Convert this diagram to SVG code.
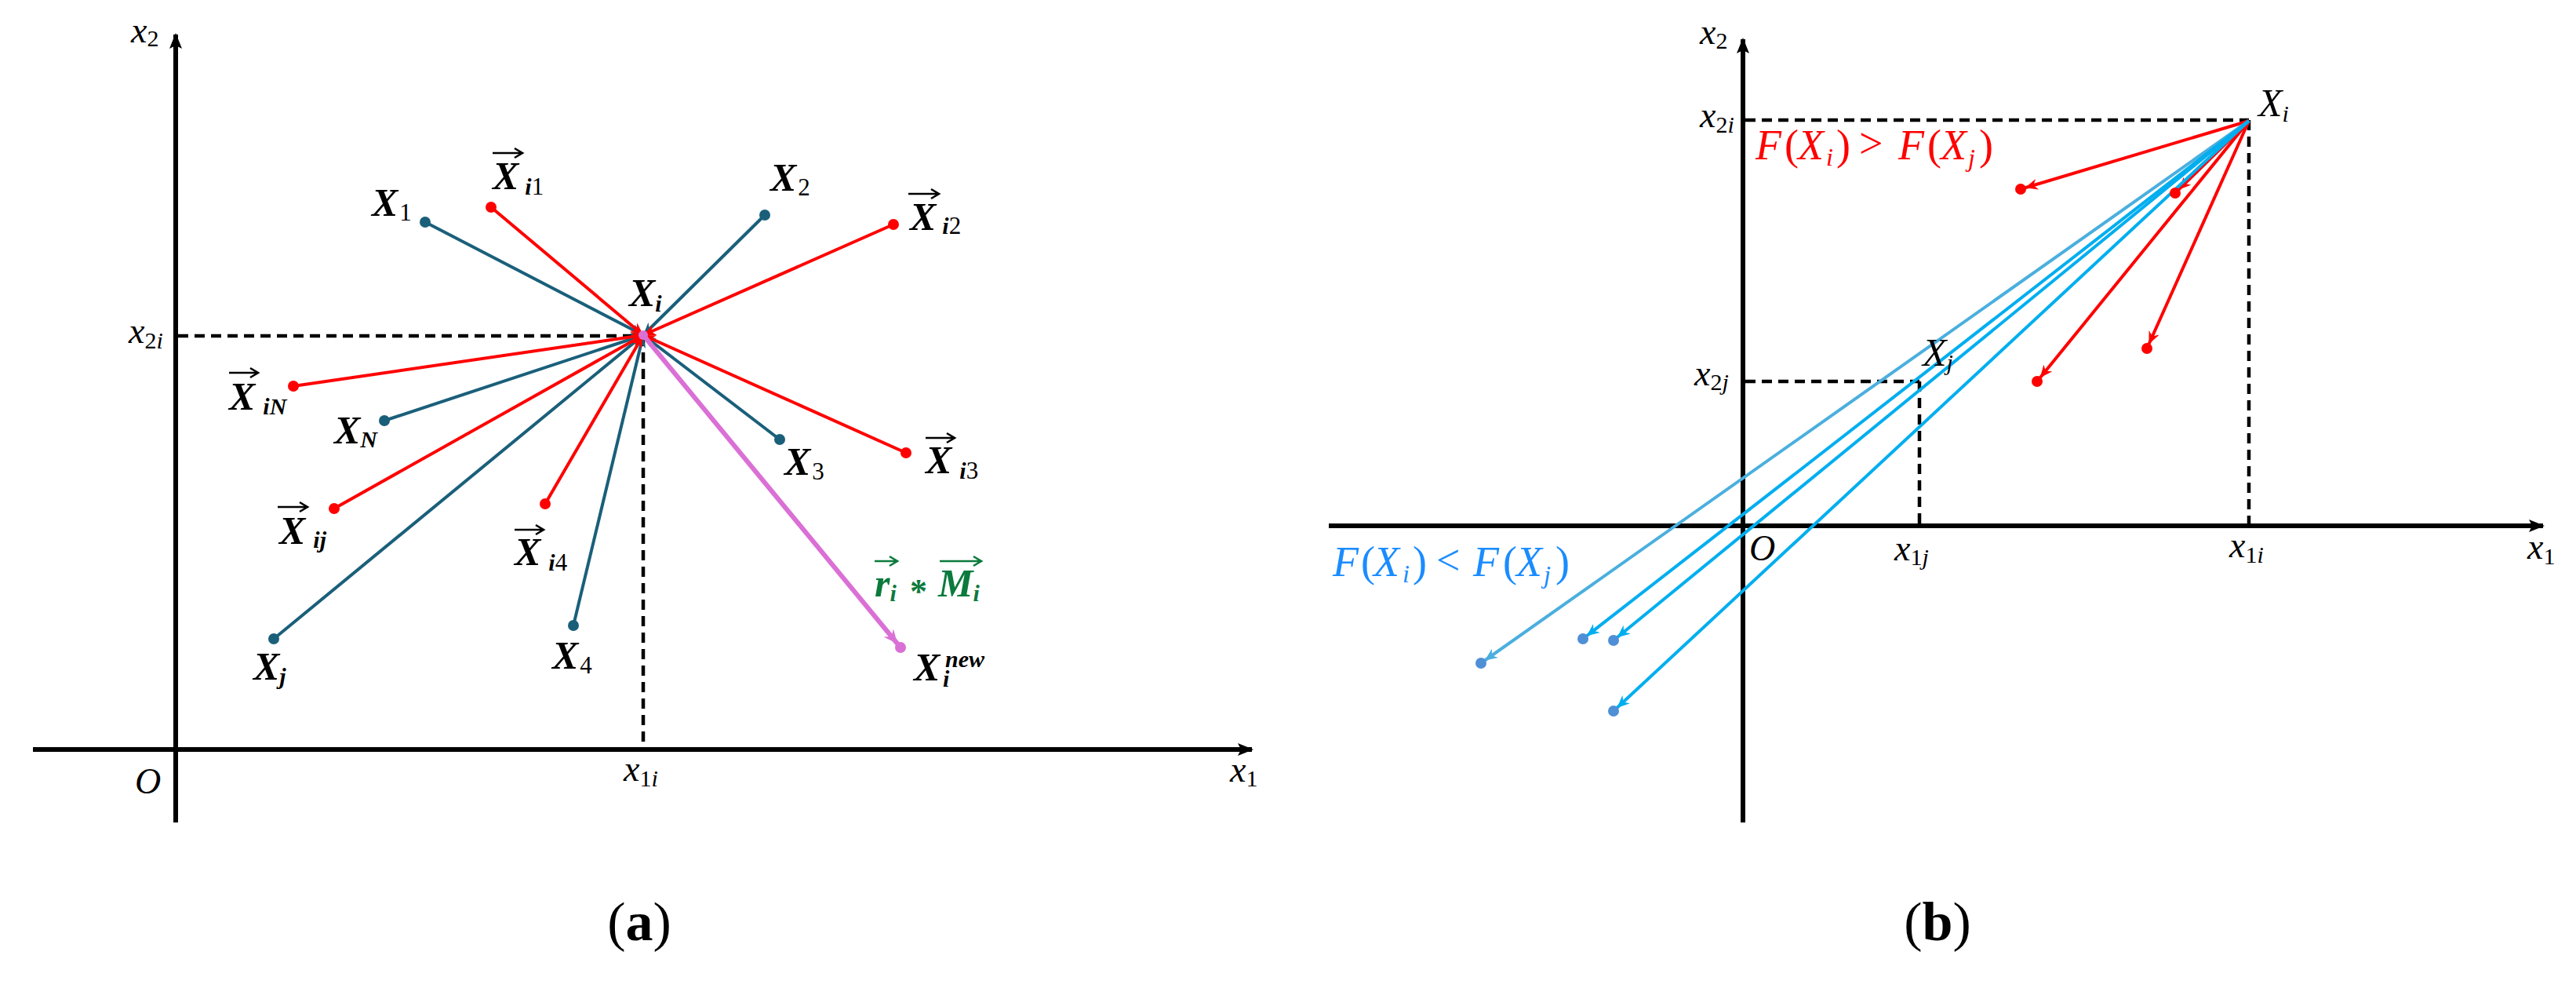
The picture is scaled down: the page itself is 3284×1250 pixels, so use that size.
<svg xmlns="http://www.w3.org/2000/svg" width="3284" height="1250" viewBox="0 0 3284 1250">
<style>
.ax{stroke:#000;stroke-width:6;fill:none}
.dash{stroke:#000;stroke-width:4.5;stroke-dasharray:13 8;fill:none}
.tl{stroke:#1a5f7a;stroke-width:4;fill:none}
.rd{stroke:#ff0000;stroke-width:4;fill:none}
.pk{stroke:#da70d6;stroke-width:6;fill:none}
.cy{stroke:#00aeef;stroke-width:4;fill:none}
.lb{stroke:#4aafde;stroke-width:4;fill:none}
.va{stroke:#000;stroke-width:2.6;fill:none}
.vg{stroke:#0b7a3d;stroke-width:2.6;fill:none}
text{font-family:"Liberation Serif","Times New Roman",serif}
.Xa{font-size:50px;font-style:italic;font-weight:bold}
.sa{font-size:30px;font-style:italic;font-weight:bold}
.sn{font-size:31px;font-style:normal;font-weight:normal}
.ma{font-size:46px;font-style:italic}
.ms{font-size:30px;font-style:italic}
.mu{font-size:30px;font-style:normal}
.Xb{font-size:50px;font-style:italic}
.fb{font-size:54px;font-style:italic}
.fbs{font-size:32px;font-style:italic}
.fbu{font-size:54px}
.cap{font-size:70px}
</style>
<defs>
<marker id="ahTeal" markerUnits="userSpaceOnUse" markerWidth="16" markerHeight="14" refX="16" refY="7" orient="auto"><path d="M0,0 L16,7 L0,14 L5,7 Z" fill="#1a5f7a"/></marker>
<marker id="ahRed" markerUnits="userSpaceOnUse" markerWidth="16" markerHeight="14" refX="16" refY="7" orient="auto"><path d="M0,0 L16,7 L0,14 L5,7 Z" fill="#ff0000"/></marker>
<marker id="adRed" markerUnits="userSpaceOnUse" markerWidth="16" markerHeight="14" refX="22" refY="7" orient="auto"><path d="M0,0 L16,7 L0,14 L5,7 Z" fill="#ff0000"/></marker>
<marker id="adPink" markerUnits="userSpaceOnUse" markerWidth="18" markerHeight="16" refX="24" refY="8" orient="auto"><path d="M0,0 L18,8 L0,16 L6,8 Z" fill="#da70d6"/></marker>
<marker id="adCyan" markerUnits="userSpaceOnUse" markerWidth="16" markerHeight="14" refX="22" refY="7" orient="auto"><path d="M0,0 L16,7 L0,14 L5,7 Z" fill="#00aeef"/></marker>
<marker id="adLb" markerUnits="userSpaceOnUse" markerWidth="16" markerHeight="14" refX="22" refY="7" orient="auto"><path d="M0,0 L16,7 L0,14 L5,7 Z" fill="#4aafde"/></marker>
<marker id="axh" markerUnits="userSpaceOnUse" markerWidth="20" markerHeight="16" refX="18" refY="8" orient="auto"><path d="M0,0 L20,8 L0,16 L4,8 Z" fill="#000"/></marker>
</defs>

<!-- Panel (a) axes -->
<g id="axes-a">
<line class="ax" x1="224" y1="1048" x2="224" y2="44" marker-end="url(#axh)"/>
<line class="ax" x1="42" y1="955" x2="1596" y2="955" marker-end="url(#axh)"/>
<line class="dash" x1="227" y1="428" x2="820" y2="428"/>
<line class="dash" x1="820" y1="428" x2="820" y2="952"/>
<text class="ma" x="167" y="54">x<tspan class="mu" dy="5">2</tspan></text>
<text class="ma" x="164" y="437">x<tspan class="mu" dy="7">2</tspan><tspan class="ms">i</tspan></text>
<text class="ma" x="172" y="1011">O</text>
<text class="ma" x="795" y="995">x<tspan class="mu" dy="7">1</tspan><tspan class="ms">i</tspan></text>
<text class="ma" x="1568" y="996">x<tspan class="mu" dy="6">1</tspan></text>
</g>

<!-- Panel (b) axes -->
<g id="axes-b">
<line class="ax" x1="2222" y1="1048" x2="2222" y2="50" marker-end="url(#axh)"/>
<line class="ax" x1="1694" y1="670" x2="3242" y2="670" marker-end="url(#axh)"/>
<line class="dash" x1="2225" y1="153" x2="2867" y2="153"/>
<line class="dash" x1="2867" y1="153" x2="2867" y2="667"/>
<line class="dash" x1="2225" y1="486" x2="2447" y2="486"/>
<line class="dash" x1="2447" y1="486" x2="2447" y2="667"/>
<text class="ma" x="2167" y="56">x<tspan class="mu" dy="6">2</tspan></text>
<text class="ma" x="2167" y="162">x<tspan class="mu" dy="7">2</tspan><tspan class="ms">i</tspan></text>
<text class="ma" x="2160" y="491">x<tspan class="mu" dy="6">2</tspan><tspan class="ms">j</tspan></text>
<text class="ma" x="2230" y="714">O</text>
<text class="ma" x="2415" y="714">x<tspan class="mu" dy="6">1</tspan><tspan class="ms">j</tspan></text>
<text class="ma" x="2842" y="710">x<tspan class="mu" dy="7">1</tspan><tspan class="ms">i</tspan></text>
<text class="ma" x="3222" y="712">x<tspan class="mu" dy="7">1</tspan></text>
</g>

<!-- Connectors -->
<g id="connectors">
<line class="tl" x1="542" y1="283" x2="820" y2="427" marker-end="url(#ahTeal)"/>
<line class="tl" x1="975" y1="274" x2="820" y2="427" marker-end="url(#ahTeal)"/>
<line class="tl" x1="490" y1="536" x2="820" y2="427" marker-end="url(#ahTeal)"/>
<line class="tl" x1="994" y1="560" x2="820" y2="427" marker-end="url(#ahTeal)"/>
<line class="tl" x1="349" y1="814" x2="820" y2="427" marker-end="url(#ahTeal)"/>
<line class="tl" x1="731" y1="797" x2="820" y2="427" marker-end="url(#ahTeal)"/>
<line class="rd" x1="626" y1="264" x2="820" y2="427" marker-end="url(#ahRed)"/>
<line class="rd" x1="1139" y1="286" x2="820" y2="427" marker-end="url(#ahRed)"/>
<line class="rd" x1="374" y1="492" x2="820" y2="427" marker-end="url(#ahRed)"/>
<line class="rd" x1="426" y1="648" x2="820" y2="427" marker-end="url(#ahRed)"/>
<line class="rd" x1="695" y1="642" x2="820" y2="427" marker-end="url(#ahRed)"/>
<line class="rd" x1="1155" y1="577" x2="820" y2="427" marker-end="url(#ahRed)"/>
<line class="pk" x1="820" y1="427" x2="1148" y2="825" marker-end="url(#adPink)"/>

<line class="rd" x1="2867" y1="154" x2="2576" y2="241" marker-end="url(#adRed)"/>
<line class="rd" x1="2867" y1="154" x2="2773" y2="246" marker-end="url(#adRed)"/>
<line class="rd" x1="2867" y1="154" x2="2737" y2="444" marker-end="url(#adRed)"/>
<line class="rd" x1="2867" y1="154" x2="2597" y2="486" marker-end="url(#adRed)"/>
<line class="lb" x1="2867" y1="154" x2="1888" y2="845" marker-end="url(#adLb)"/>
<line class="cy" x1="2867" y1="154" x2="2018" y2="814" marker-end="url(#adCyan)"/>
<line class="cy" x1="2867" y1="154" x2="2057" y2="816" marker-end="url(#adCyan)"/>
<line class="cy" x1="2867" y1="154" x2="2057" y2="906" marker-end="url(#adCyan)"/>
</g>

<!-- Panel (a) nodes -->
<g id="node-Xi"><circle cx="820" cy="427" r="6" fill="#da70d6"/><text class="Xa" x="802" y="390">X<tspan class="sa" dy="7">i</tspan></text></g>
<g id="node-X1"><circle cx="542" cy="283" r="7" fill="#1a5f7a"/><text class="Xa" x="474" y="275">X<tspan class="sn" dx="2" dy="6">1</tspan></text></g>
<g id="node-X2"><circle cx="975" cy="274" r="7" fill="#1a5f7a"/><text class="Xa" x="982" y="243">X<tspan class="sn" dx="2" dy="6">2</tspan></text></g>
<g id="node-XN"><circle cx="490" cy="536" r="7" fill="#1a5f7a"/><text class="Xa" x="426" y="565">X<tspan class="sa" dy="5">N</tspan></text></g>
<g id="node-X3"><circle cx="994" cy="560" r="7" fill="#1a5f7a"/><text class="Xa" x="1000" y="605">X<tspan class="sn" dx="2" dy="6">3</tspan></text></g>
<g id="node-Xj"><circle cx="349" cy="814" r="7" fill="#1a5f7a"/><text class="Xa" x="323" y="866">X<tspan class="sa" dy="6">j</tspan></text></g>
<g id="node-X4"><circle cx="731" cy="797" r="7" fill="#1a5f7a"/><text class="Xa" x="704" y="852">X<tspan class="sn" dx="2" dy="6">4</tspan></text></g>

<g id="node-Xi1"><circle cx="626" cy="264" r="7" fill="#ff0000"/>
<path class="va" d="M628,195 H665 M656,189 L666,195 L656,201"/>
<text class="Xa" x="628" y="241">X<tspan class="sa" dx="8" dy="7">i</tspan><tspan class="sn">1</tspan></text></g>
<g id="node-Xi2"><circle cx="1139" cy="286" r="7" fill="#ff0000"/>
<path class="va" d="M1158,247 H1196 M1187,241 L1197,247 L1187,253"/>
<text class="Xa" x="1160" y="293">X<tspan class="sa" dx="8" dy="5">i</tspan><tspan class="sn">2</tspan></text></g>
<g id="node-XiN"><circle cx="374" cy="492" r="7" fill="#ff0000"/>
<path class="va" d="M292,475 H328 M319,469 L329,475 L319,481"/>
<text class="Xa" x="292" y="522">X<tspan class="sa" dx="10" dy="6">iN</tspan></text></g>
<g id="node-Xij"><circle cx="426" cy="648" r="7" fill="#ff0000"/>
<path class="va" d="M354,646 H391 M382,640 L392,646 L382,652"/>
<text class="Xa" x="356" y="693">X<tspan class="sa" dx="10" dy="5">ij</tspan></text></g>
<g id="node-Xi4"><circle cx="695" cy="642" r="7" fill="#ff0000"/>
<path class="va" d="M656,675 H692 M683,669 L693,675 L683,681"/>
<text class="Xa" x="656" y="720">X<tspan class="sa" dx="10" dy="7">i</tspan><tspan class="sn">4</tspan></text></g>
<g id="node-Xi3"><circle cx="1155" cy="577" r="7" fill="#ff0000"/>
<path class="va" d="M1180,558 H1216 M1207,552 L1217,558 L1207,564"/>
<text class="Xa" x="1180" y="603">X<tspan class="sa" dx="10" dy="7">i</tspan><tspan class="sn">3</tspan></text></g>

<g id="node-Xinew"><circle cx="1148" cy="825" r="7" fill="#da70d6"/>
<text class="Xa" x="1165" y="867">X</text>
<text class="sa" x="1205" y="850">new</text>
<text class="sa" x="1202" y="875">i</text></g>

<g id="label-riMi" fill="#0b7a3d">
<path class="vg" d="M1115,715 H1143 M1134,709 L1144,715 L1134,721"/>
<path class="vg" d="M1198,715 H1250 M1241,709 L1251,715 L1241,721"/>
<text class="Xa" x="1115" y="760" fill="#0b7a3d">r<tspan class="sa" dy="6">i</tspan></text>
<text x="1160" y="768" font-size="44" font-weight="bold" fill="#0b7a3d">*</text>
<text class="Xa" x="1196" y="760" fill="#0b7a3d">M<tspan class="sa" dy="6">i</tspan></text>
</g>

<!-- Panel (b) nodes -->
<g id="node-b-Xi"><text class="Xb" x="2879" y="148">X<tspan class="ms" dy="7">i</tspan></text></g>
<g id="node-b-Xj"><text class="Xb" x="2451" y="466">X<tspan class="ms" dy="6">j</tspan></text></g>
<g id="dots-red-b" fill="#ff0000">
<circle cx="2576" cy="241" r="7"/><circle cx="2773" cy="246" r="7"/><circle cx="2737" cy="444" r="7"/><circle cx="2597" cy="486" r="7"/>
</g>
<g id="dots-blue-b" fill="#4f8fd6">
<circle cx="1888" cy="845" r="7"/><circle cx="2018" cy="814" r="7"/><circle cx="2057" cy="816" r="7"/><circle cx="2057" cy="906" r="7"/>
</g>

<g id="label-greater" fill="#ff0000">
<text class="fb" x="2238" y="203" fill="#ff0000">F</text>
<text class="fbu" x="2275" y="203" fill="#ff0000">(</text>
<text class="fb" x="2292" y="203" fill="#ff0000">X</text>
<text class="fbs" x="2328" y="211" fill="#ff0000">i</text>
<text class="fbu" x="2341" y="203" fill="#ff0000">)</text>
<text class="fbu" x="2370" y="201" fill="#ff0000">&gt;</text>
<text class="fb" x="2420" y="203" fill="#ff0000">F</text>
<text class="fbu" x="2457" y="203" fill="#ff0000">(</text>
<text class="fb" x="2474" y="203" fill="#ff0000">X</text>
<text class="fbs" x="2509" y="212" fill="#ff0000">j</text>
<text class="fbu" x="2523" y="203" fill="#ff0000">)</text>
</g>
<g id="label-less" fill="#1a8cff">
<text class="fb" x="1699" y="734" fill="#1a8cff">F</text>
<text class="fbu" x="1735" y="734" fill="#1a8cff">(</text>
<text class="fb" x="1751" y="734" fill="#1a8cff">X</text>
<text class="fbs" x="1788" y="742" fill="#1a8cff">i</text>
<text class="fbu" x="1801" y="734" fill="#1a8cff">)</text>
<text class="fbu" x="1831" y="732" fill="#1a8cff">&lt;</text>
<text class="fb" x="1878" y="734" fill="#1a8cff">F</text>
<text class="fbu" x="1916" y="734" fill="#1a8cff">(</text>
<text class="fb" x="1933" y="734" fill="#1a8cff">X</text>
<text class="fbs" x="1968" y="743" fill="#1a8cff">j</text>
<text class="fbu" x="1983" y="734" fill="#1a8cff">)</text>
</g>

<!-- Captions -->
<text class="cap" x="815" y="1198" text-anchor="middle">(<tspan font-weight="bold">a</tspan>)</text>
<text class="cap" x="2470" y="1198" text-anchor="middle">(<tspan font-weight="bold">b</tspan>)</text>
</svg>
